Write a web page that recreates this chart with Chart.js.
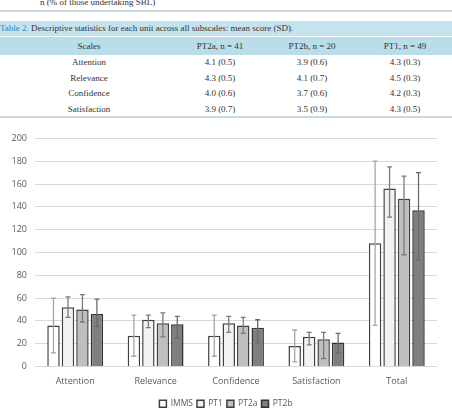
<!DOCTYPE html>
<html>
<head>
<meta charset="utf-8">
<script src="https://cdn.jsdelivr.net/npm/chart.js@4/dist/chart.umd.min.js"></script>
<style>
  html, body { margin: 0; padding: 0; background: #fff; }
  body { width: 452px; height: 418px; position: relative; overflow: hidden; font-family: "Liberation Serif", "Times New Roman", serif; color: #333; font-size: 9px; }
  .abs { position: absolute; white-space: nowrap; }
  .c { position: absolute; width: 120px; text-align: center; white-space: nowrap; }
  #wrap { position: absolute; left: 0; top: 125px; width: 452px; height: 293px; }
</style>
</head>
<body>
<!-- fin du tableau 1, coupé en haut -->
<div class="abs" style="left:40px;top:-3px;">n (% of those undertaking SBL)</div>
<div class="abs" style="left:0;top:10px;width:452px;height:2px;background:#c9d9e3;"></div>

<!-- tableau 2 -->
<div class="abs" style="left:0;top:21px;width:452px;height:15px;background:#c5e3ef;"></div>
<div class="abs" style="left:0;top:22px;line-height:13px;"><span style="color:#2386c0;">Table 2.</span> Descriptive statistics for each unit across all subscales: mean score (SD).</div>
<div class="abs" style="left:0;top:37px;width:452px;height:18px;background:#b9dde9;"></div>
<div id="tbl"></div>
<div class="abs" style="left:0;top:116px;width:452px;height:2px;background:#c9d9e3;"></div>

<div id="wrap"><canvas id="chart"></canvas></div>

<script>
// ── Tableau : moyennes (SD) par unité ──
const tableHead = ['Scales', 'PT2a, n = 41', 'PT2b, n = 20', 'PT1, n = 49'];
const tableScales = ['Attention', 'Relevance', 'Confidence', 'Satisfaction'];
const tablePT2a = ['4.1 (0.5)', '4.3 (0.5)', '4.0 (0.6)', '3.9 (0.7)'];
const tablePT2b = ['3.9 (0.6)', '4.1 (0.7)', '3.7 (0.6)', '3.5 (0.9)'];
const tablePT1 = ['4.3 (0.3)', '4.5 (0.3)', '4.2 (0.3)', '4.3 (0.5)'];

// ── Graphique : scores moyens et bornes des barres d'erreur ──
const categories = ['Attention', 'Relevance', 'Confidence', 'Satisfaction', 'Total'];
const immsMean = [36, 27, 27, 18, 108];
const immsLow = [12, 9, 9, 4, 36];
const immsHigh = [60, 45, 45, 32, 180];
const pt1Mean = [52, 41, 38, 26, 156];
const pt1Low = [43, 34, 30, 19, 131];
const pt1High = [61, 45, 44, 30, 175];
const pt2aMean = [50, 38, 36, 24, 147];
const pt2aLow = [39, 26, 29, 7, 98];
const pt2aHigh = [63, 47, 43, 30, 167];
const pt2bMean = [46, 37, 34, 21, 137];
const pt2bLow = [35, 25, 21, 12, 93];
const pt2bHigh = [59, 44, 41, 29, 170];

const colX = [89, 220, 312, 405];

const tbl = document.getElementById('tbl');
function cell(text, x, y) {
    const d = document.createElement('div');
    d.className = 'c';
    d.style.left = (x - 60) + 'px';
    d.style.top = (y - 6) + 'px';
    d.style.lineHeight = '12px';
    d.textContent = text;
    tbl.appendChild(d);
}
tableHead.forEach((t, i) => cell(t, colX[i], 46));
tableScales.forEach((s, r) => {
    const y = 62 + r * 15.5;
    cell(s, colX[0], y);
    cell(tablePT2a[r], colX[1], y);
    cell(tablePT2b[r], colX[2], y);
    cell(tablePT1[r], colX[3], y);
});

const errLow = [immsLow, pt1Low, pt2aLow, pt2bLow];
const errHigh = [immsHigh, pt1High, pt2aHigh, pt2bHigh];
const errColor = ['#a6a6a6', '#7a7a7a', '#7a7a7a', '#6a6a6a'];

// barres d'erreur dessinées par-dessus les barres, via l'échelle y
const errorBars = {
    id: 'errorBars',
    afterDatasetsDraw(chart) {
        const ctx = chart.ctx;
        const y = chart.scales.y;
        chart.data.datasets.forEach((ds, i) => {
            const meta = chart.getDatasetMeta(i);
            meta.data.forEach((bar, j) => {
                const yLo = y.getPixelForValue(errLow[i][j]);
                const yHi = y.getPixelForValue(errHigh[i][j]);
                ctx.save();
                ctx.strokeStyle = errColor[i];
                ctx.lineWidth = 1.3;
                ctx.beginPath();
                ctx.moveTo(bar.x, yLo); ctx.lineTo(bar.x, yHi);
                ctx.moveTo(bar.x - 2.5, yLo); ctx.lineTo(bar.x + 2.5, yLo);
                ctx.moveTo(bar.x - 2.5, yHi); ctx.lineTo(bar.x + 2.5, yHi);
                ctx.stroke();
                ctx.restore();
            });
        });
    },
};

// la légende est centrée sur toute la largeur, pas seulement jusqu'à la marge droite
const legendFullWidth = {
    id: 'legendFullWidth',
    afterLayout(chart) {
        chart.legend.right = chart.width;
        chart.legend.width = chart.width - chart.legend.left;
    },
};

function series(label, data, fill, border) {
    return { label, data, backgroundColor: fill, borderColor: border, borderWidth: 1.5 };
}

new Chart(document.getElementById('chart'), {
    type: 'bar',
    data: {
        labels: categories,
        datasets: [
            series('IMMS', immsMean, '#ffffff', '#404040'),
            series('PT1', pt1Mean, '#f2f2f2', '#404040'),
            series('PT2a', pt2aMean, '#bfbfbf', '#404040'),
            series('PT2b', pt2bMean, '#7f7f7f', '#333333'),
        ],
    },
    options: {
        responsive: true,
        maintainAspectRatio: false,
        animation: false,
        categoryPercentage: 0.72,
        barPercentage: 0.86,
        layout: { padding: { top: 11, right: 15, bottom: 0, left: 0 } },
        plugins: {
            legend: {
                position: 'bottom',
                labels: {
                    boxWidth: 7, boxHeight: 7, padding: 4,
                    color: '#595959',
                    font: { family: 'Open Sans', size: 8.5 },
                },
            },
            tooltip: { enabled: false },
        },
        scales: {
            x: {
                grid: { display: false, drawTicks: false },
                border: { display: false },
                ticks: { padding: 10, color: '#595959', font: { family: 'Open Sans', size: 9 } },
                afterFit: (s) => { s.height = 29; },
            },
            y: {
                min: 0, max: 200,
                ticks: { stepSize: 20, padding: 8, color: '#595959', font: { family: 'Open Sans', size: 9 } },
                grid: { color: '#d9d9d9', drawTicks: false },
                border: { display: false },
                afterFit: (s) => { s.width = 35; },
            },
        },
    },
    plugins: [errorBars, legendFullWidth],
});
</script>
</body>
</html>
